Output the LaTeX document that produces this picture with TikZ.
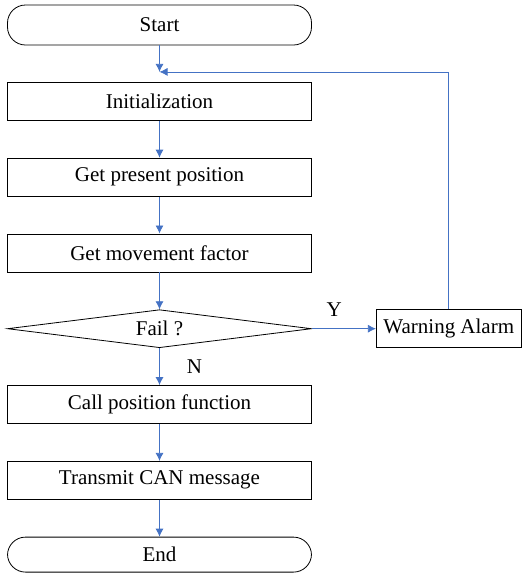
\documentclass[tikz,border=0pt]{standalone}
\usepackage{fontspec}
\setmainfont{Liberation Serif}
\usepackage{xcolor}
\usetikzlibrary{arrows.meta,positioning,shapes.geometric}
\definecolor{fcblue}{HTML}{4472C4}
\newcommand{\fcfont}{\rmfamily\fontsize{21}{25}\selectfont}
\tikzset{
  fcbox/.style={draw,line width=0.8pt,inner sep=0pt,minimum width=304pt,minimum height=38pt,
    font=\fcfont},
  fcterm/.style={fcbox,rounded corners=18pt},
  fcdec/.style={fcbox,diamond,aspect=8},
  fcflow/.style={-{Latex[length=8pt,width=8pt]},fcblue,line width=0.8pt},
  fclabel/.style={text=black,font=\fcfont},
}
\begin{document}
\begin{tikzpicture}[x=1pt,y=-1pt,node distance=37pt]
\useasboundingbox (0,0) rectangle (523,574);
\node[fcterm,minimum height=40pt] (start) at (159.5,25) {Start};
\node[fcbox,below=36.5pt of start] (init) {Initialization};
\node[fcbox,below=of init] (getpos) {Get present position};
\node[fcbox,below=of getpos] (getmov) {Get movement factor};
\node[fcdec,below=of getmov] (fail) {Fail ?};
\node[fcbox,minimum width=145pt,right=64pt of fail] (warn) {Warning Alarm};
\node[fcbox,below=of fail] (callpos) {Call position function};
\node[fcbox,below=of callpos] (sendcan) {Transmit CAN message};
\node[fcterm,minimum height=35pt,below=of sendcan] (end) {End};
\coordinate[above=10pt of init] (join);
\draw[fcflow] (start) -- (join);
\draw[fcflow] (warn.north) |- (join);
\draw[fcflow] (init) -- (getpos);
\draw[fcflow] (getpos) -- (getmov);
\draw[fcflow] (getmov) -- (fail);
\draw[fcflow] (fail) -- node[pos=0.35,above=8pt,fclabel]{Y} (warn);
\draw[fcflow] (fail) -- node[right=16pt,fill=white,inner xsep=11pt,inner ysep=9pt,fclabel]{N} (callpos);
\draw[fcflow] (callpos) -- (sendcan);
\draw[fcflow] (sendcan) -- (end);
\end{tikzpicture}
\end{document}
